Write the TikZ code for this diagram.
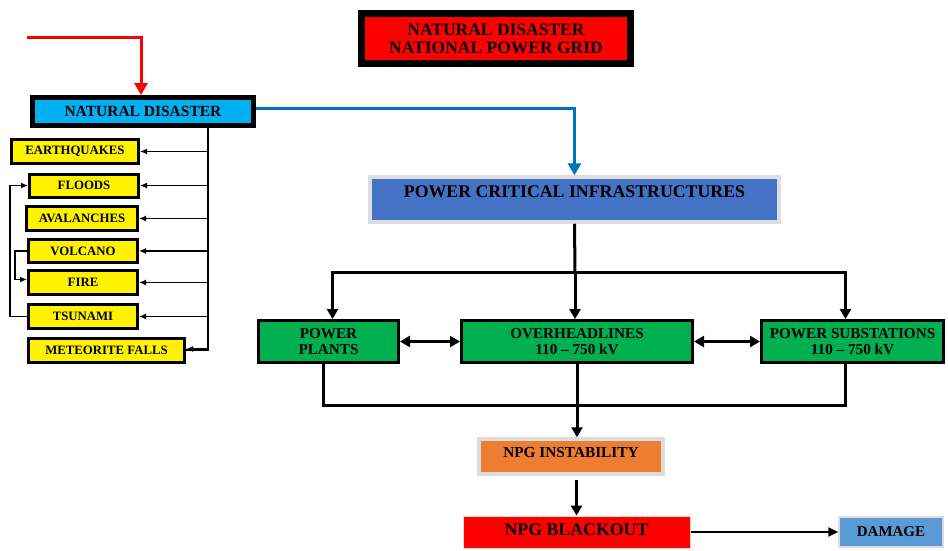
\documentclass[tikz,border=0pt]{standalone}
\usepackage{fontspec}
\setmainfont{Liberation Serif}
\usetikzlibrary{arrows.meta,calc}
\definecolor{cyanbox}{HTML}{00B0F0}
\definecolor{blueline}{HTML}{0070C0}
\definecolor{pcib}{HTML}{4472C4}
\definecolor{greenbox}{HTML}{00B050}
\definecolor{orangebox}{HTML}{ED7D31}
\definecolor{dmgbox}{HTML}{5B9BD5}
\definecolor{softedge}{HTML}{DDDDDD}
\tikzset{
  base/.style={rectangle, inner sep=0pt, align=center, font=\bfseries},
  ybox/.style={base, draw=black, fill=yellow, line width=3pt, minimum height=24pt, font=\bfseries\fontsize{12.8}{14}\selectfont},
  gbox/.style={base, draw=black, fill=greenbox, line width=3pt, minimum height=42pt, font=\bfseries\fontsize{15.2}{16}\selectfont},
  softbox/.style={base, draw=softedge, line width=3.5pt},
  thin arrow/.style={line width=1.5pt, -{Latex[length=7pt,width=6pt]}},
  thick arrow/.style={line width=3pt, -{Triangle[length=10pt,width=11pt]}},
  thick line/.style={line width=3pt},
  dbl arrow/.style={line width=3pt, {Triangle[length=10pt,width=11pt]}-{Triangle[length=10pt,width=11pt]}}
}
\begin{document}
\begin{tikzpicture}[x=1pt,y=-1pt]
\useasboundingbox (0,0) rectangle (948,550);
% title
\node[base, draw=black, fill=red, line width=7pt, minimum width=269pt, minimum height=50pt,
      font=\bfseries\fontsize{17.5}{18}\selectfont] (title) at (496,38.5)
      {NATURAL DISASTER\\NATIONAL POWER GRID};
% natural disaster
\node[base, draw=black, fill=cyanbox, line width=5pt, minimum width=221pt, minimum height=28pt,
      font=\bfseries\fontsize{15.5}{17}\selectfont] (nd) at (143,111.5) {NATURAL DISASTER};
% yellow boxes
\node[ybox, minimum width=127pt] (eq) at (75,151.5) {EARTHQUAKES};
\node[ybox, minimum width=109pt, minimum height=23pt] (flo) at (84,185.5) {FLOODS};
\node[ybox, minimum width=111pt] (ava) at (82,218.5) {AVALANCHES};
\node[ybox, minimum width=109pt, minimum height=23pt] (vol) at (83,251) {VOLCANO};
\node[ybox, minimum width=109pt] (fire) at (83,282.5) {FIRE};
\node[ybox, minimum width=109pt] (tsu) at (83,316.5) {TSUNAMI};
\node[ybox, minimum width=156pt] (met) at (106.5,350) {METEORITE FALLS};
% power critical infrastructures
\node[softbox, fill=pcib, minimum width=409pt, minimum height=45pt, text height=12pt, text depth=16pt,
      font=\bfseries\fontsize{17.8}{19}\selectfont] (pci) at (574.5,199.5) {POWER CRITICAL INFRASTRUCTURES};
% green boxes
\node[gbox, minimum width=140pt] (pp) at (328.5,341.5) {POWER\\PLANTS};
\node[gbox, minimum width=231pt] (oh) at (577,341.5) {OVERHEADLINES\\110 -- 750 kV};
\node[gbox, minimum width=182pt] (ps) at (852.5,341.5) {POWER SUBSTATIONS\\110 -- 750 kV};
% bottom boxes
\node[softbox, fill=orangebox, minimum width=184pt, minimum height=35pt, text height=11pt, text depth=10pt,
      font=\bfseries\fontsize{15.3}{17}\selectfont] (inst) at (571,456.5) {NPG INSTABILITY};
\node[base, draw=brown!30, line width=1pt, fill=red, minimum width=227pt, minimum height=32pt, text height=12pt, text depth=6pt,
      font=\bfseries\fontsize{17.8}{19}\selectfont] (bo) at (576.5,532) {NPG BLACKOUT};
\node[base, draw=softedge, line width=1.5pt, fill=dmgbox, minimum width=104pt, minimum height=30pt,
      font=\bfseries\fontsize{15}{16}\selectfont] (dmg) at (891,532) {DAMAGE};
% coordinates
\coordinate (rs) at (27,37);
\coordinate (tk) at (208,0);
\coordinate (bus) at (575,272);
% red input arrow
\draw[red, line width=3pt, -{Triangle[length=12pt,width=13pt]}] (rs) -| ([xshift=-2pt]nd.north);
% blue connector
\draw[blueline, line width=3pt, -{Triangle[length=12pt,width=13pt]}] ([yshift=3pt]nd.east) -| (pci.north);
% trunk
\draw[line width=2.5pt] (nd.south -| tk) |- (met.east);
\draw[thin arrow] (eq.east -| tk) -- (eq.east);
\draw[thin arrow] (flo.east -| tk) -- (flo.east);
\draw[thin arrow] (ava.east -| tk) -- (ava.east);
\draw[thin arrow] (vol.east -| tk) -- (vol.east);
\draw[thin arrow] (fire.east -| tk) -- (fire.east);
\draw[thin arrow] (tsu.east -| tk) -- (tsu.east);
\draw[thin arrow] ([yshift=1pt]met.east -| tk) -- ([yshift=1pt]met.east);
% left loops
\draw[thin arrow] (tsu.west) -- ++(-17,0) |- (flo.west);
\draw[thin arrow] (vol.west) -- ++(-12,0) |- ([yshift=3pt]fire.west);
% PCI distribution
\draw[thick line] (pci.south) -- (bus);
\draw[thick arrow] (bus) -| ([xshift=4pt]pp.north);
\draw[thick arrow] (bus) -- (bus |- oh.north);
\draw[thick arrow] (bus) -| ([xshift=-7pt]ps.north);
% double arrows
\draw[dbl arrow] (pp.east) -- (oh.west);
\draw[dbl arrow] (oh.east) -- (ps.west);
% bottom collection
\draw[thick line] ([xshift=-5pt]pp.south) -- ++(0,41) -| ([xshift=-7pt]ps.south);
\draw[thick arrow] (oh.south) -- (oh.south |- inst.north);
\draw[thick arrow] ([yshift=-4pt]inst.south -| bo.north) -- (bo.north);
\draw[line width=1.8pt, -{Triangle[length=10pt,width=9pt]}] (bo.east) -- (dmg.west);
\end{tikzpicture}
\end{document}
